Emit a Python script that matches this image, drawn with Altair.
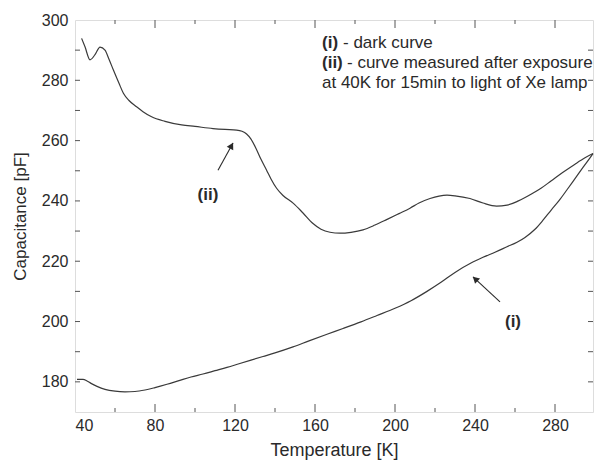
import math
import altair as alt
import pandas as pd

# ---- data ----
t_ii = [43.3, 45, 47.5, 50, 52.5, 55, 57, 59.2, 62, 64.2, 67, 70.8, 74, 78.3, 85, 93.3,
        100, 109, 115, 120.8, 123.5, 125.8, 128, 130.8, 133, 135.8, 138, 140.8, 144,
        149.2, 154, 159, 163, 167.5, 172.5, 178, 184, 190, 195.8, 202, 207.5, 212,
        217.5, 222, 226, 230, 237.5, 244, 250.8, 256, 261.7, 268, 273, 278, 284,
        290, 295, 299]
c_ii = [293.9, 291.1, 286.8, 288.5, 291.0, 290.0, 287.0, 283.4, 279.0, 275.7, 273.3,
        271.2, 269.6, 267.9, 266.4, 265.2, 264.7, 264.0, 263.7, 263.5, 263.1, 262.2,
        260.5, 257.0, 253.8, 250.2, 247.3, 244.2, 241.8, 239.2, 236.0, 232.5, 230.6,
        229.6, 229.3, 229.6, 230.4, 232.0, 233.8, 235.8, 237.6, 239.3, 240.8, 241.6,
        241.9, 241.7, 240.8, 239.3, 238.3, 238.6, 240.0, 242.2, 244.2, 246.6, 249.5,
        252.2, 254.3, 255.7]

t_i = [41, 44, 46, 48, 51, 55, 60, 65, 70, 75, 80, 86, 92, 98, 104, 110, 116, 122, 128,
       134, 140, 149, 157, 166, 174, 183, 191, 200, 208, 216, 223, 230, 238, 244, 250,
       256, 261, 265, 270, 274, 278, 282, 286, 290, 294, 297.5, 299]
c_i = [180.8, 180.8, 180.3, 179.5, 178.5, 177.5, 176.9, 176.7, 176.8, 177.3, 178.1,
       179.2, 180.4, 181.6, 182.6, 183.7, 184.8, 186.0, 187.2, 188.4, 189.6, 191.6,
       193.6, 195.8, 197.7, 199.9, 202.0, 204.4, 206.9, 210.0, 213.0, 216.3, 219.4,
       221.3, 223.0, 224.8, 226.3, 227.9, 230.6, 233.6, 236.9, 240.1, 243.7, 247.4,
       251.1, 254.3, 255.7]

x_major = [40, 80, 120, 160, 200, 240, 280]
x_minor = [60, 100, 140, 180, 220, 260]
y_labels = [180, 200, 220, 240, 260, 280, 300]
y_ticks = [180, 190, 200, 210, 220, 230, 240, 250, 260, 270, 280, 290]

legend_bold = ["(i)", "(ii)"]
legend_rest = ["- dark curve", "- curve measured after exposure",
               "at 40K for 15min to light of Xe lamp"]
legend_x = 163.5
legend_y = [292.5, 285.6, 279.0]
legend_dx = [21, 25, 0]

ann_labels = ["(ii)", "(i)"]
ann_label_t = [106.5, 259.0]
ann_label_c = [241.9, 200.0]
arrow_tail_t = [111.5, 252.5]
arrow_tail_c = [250.2, 206.5]
arrow_head_t = [119.0, 239.0]
arrow_head_c = [259.2, 214.8]

# ---- layout ----
W, H = 518, 392
XDOM = [40, 299]
YDOM = [170, 300]
FONT = "Liberation Sans"
LINE_COLOR = "#3a3a3a"
TEXT_COLOR = "#2a2a2a"
AXIS_COLOR = "#555555"

sx = W / (XDOM[1] - XDOM[0])
sy = H / (YDOM[1] - YDOM[0])

xs = alt.Scale(domain=XDOM, nice=False, zero=False)
ys = alt.Scale(domain=YDOM, nice=False, zero=False)

curves = pd.DataFrame(
    {"T": t_ii + t_i, "C": c_ii + c_i, "curve": ["ii"] * len(t_ii) + ["i"] * len(t_i)}
)

lines = alt.Chart(curves).mark_line(
    color=LINE_COLOR, strokeWidth=1.2, interpolate="monotone"
).encode(
    x=alt.X("T:Q", scale=xs,
            axis=alt.Axis(values=x_major, ticks=False, domain=False, grid=False,
                          labelFontSize=16, labelColor=TEXT_COLOR, labelFont=FONT,
                          labelPadding=5, title="Temperature [K]", titleFontSize=18,
                          titleFont=FONT, titleFontWeight="normal", titleColor=TEXT_COLOR,
                          titlePadding=8)),
    y=alt.Y("C:Q", scale=ys,
            axis=alt.Axis(values=y_labels, ticks=False, domain=False, grid=False,
                          labelFontSize=16, labelColor=TEXT_COLOR, labelFont=FONT,
                          labelPadding=7, title="Capacitance [pF]", titleFontSize=17,
                          titleFont=FONT, titleFontWeight="normal", titleColor=TEXT_COLOR,
                          titlePadding=12)),
    detail="curve:N",
)

def xtick_layer(vals, length):
    df = pd.DataFrame({"v": vals})
    bot = alt.Chart(df).mark_rule(color=AXIS_COLOR, strokeWidth=1).encode(
        x=alt.X("v:Q", scale=xs), y=alt.value(H), y2=alt.value(H - length))
    top = alt.Chart(df).mark_rule(color=AXIS_COLOR, strokeWidth=1).encode(
        x=alt.X("v:Q", scale=xs), y=alt.value(0), y2=alt.value(length))
    return [bot, top]

def ytick_layer(vals, length):
    df = pd.DataFrame({"v": vals})
    left = alt.Chart(df).mark_rule(color=AXIS_COLOR, strokeWidth=1).encode(
        y=alt.Y("v:Q", scale=ys), x=alt.value(0), x2=alt.value(length))
    right = alt.Chart(df).mark_rule(color=AXIS_COLOR, strokeWidth=1).encode(
        y=alt.Y("v:Q", scale=ys), x=alt.value(W), x2=alt.value(W - length))
    return [left, right]

ticks = xtick_layer(x_major[1:], 8) + xtick_layer(x_minor, 4) + ytick_layer(y_ticks, 5)

# legend text
leg_b = pd.DataFrame({"x": [legend_x] * 2, "y": legend_y[:2], "t": legend_bold})
legend_bold_layer = alt.Chart(leg_b).mark_text(
    align="left", baseline="middle", font=FONT, fontSize=17, fontWeight="bold",
    color=TEXT_COLOR).encode(x=alt.X("x:Q", scale=xs), y=alt.Y("y:Q", scale=ys), text="t:N")
legend_rest_layers = []
for i in range(3):
    sub = pd.DataFrame({"x": [legend_x], "y": [legend_y[i]], "t": [legend_rest[i]]})
    legend_rest_layers.append(
        alt.Chart(sub).mark_text(
            align="left", baseline="middle", font=FONT, fontSize=17,
            color=TEXT_COLOR, dx=legend_dx[i]).encode(
            x=alt.X("x:Q", scale=xs), y=alt.Y("y:Q", scale=ys), text="t:N"))

# annotations
ann = pd.DataFrame({"t": ann_labels, "x": ann_label_t, "y": ann_label_c})
ann_layer = alt.Chart(ann).mark_text(
    align="center", baseline="middle", font=FONT, fontSize=17, fontWeight="bold",
    color=TEXT_COLOR).encode(x=alt.X("x:Q", scale=xs), y=alt.Y("y:Q", scale=ys), text="t:N")

arrows = pd.DataFrame({"x": arrow_tail_t, "y": arrow_tail_c,
                       "x2": arrow_head_t, "y2": arrow_head_c})
shaft = alt.Chart(arrows).mark_rule(color=TEXT_COLOR, strokeWidth=1.1).encode(
    x=alt.X("x:Q", scale=xs), y=alt.Y("y:Q", scale=ys), x2="x2:Q", y2="y2:Q")

heads = []
for tx, ty, hx, hy in zip(arrow_tail_t, arrow_tail_c, arrow_head_t, arrow_head_c):
    dxp = (hx - tx) * sx
    dyp = (hy - ty) * sy
    ang = math.degrees(math.atan2(dxp, dyp)) % 360
    n = math.hypot(dxp, dyp)
    back = 3.0
    cx = hx - dxp / n * back / sx
    cy = hy - dyp / n * back / sy
    heads.append(
        alt.Chart(pd.DataFrame({"x": [cx], "y": [cy]})).mark_point(
            shape="triangle-up", filled=True, size=55, color=TEXT_COLOR,
            opacity=1, angle=ang).encode(
            x=alt.X("x:Q", scale=xs), y=alt.Y("y:Q", scale=ys)))

chart = alt.layer(
    lines, *ticks, legend_bold_layer, *legend_rest_layers, ann_layer, shaft, *heads
).properties(
    width=W, height=H,
    autosize=alt.AutoSizeParams(type="none"),
    padding={"left": 75, "top": 20, "right": 2, "bottom": 50},
).configure_view(
    stroke=AXIS_COLOR, strokeWidth=1.2
).configure(background="white")

chart.save("out.html", embed_options={"renderer": "svg", "actions": False})
